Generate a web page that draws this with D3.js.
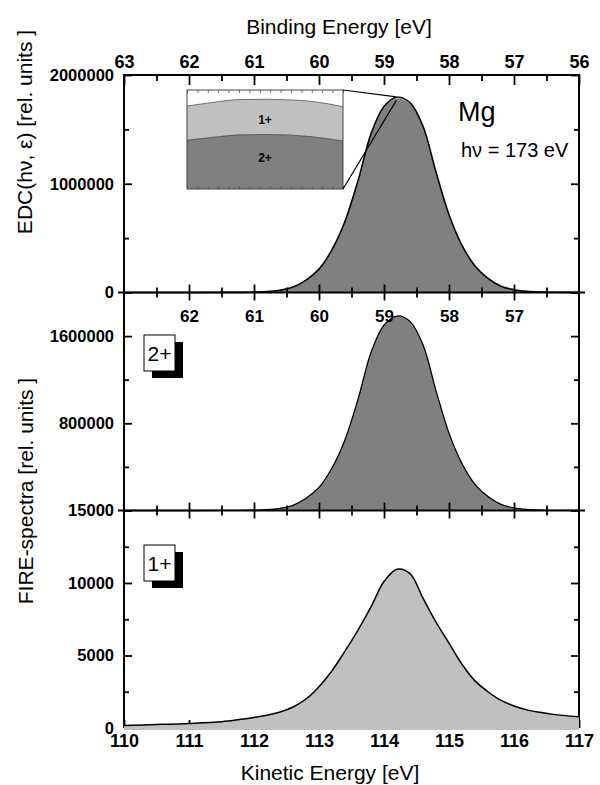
<!DOCTYPE html>
<html>
<head>
<meta charset="utf-8">
<script src="https://cdn.jsdelivr.net/npm/d3@7"></script>
<style>
body { margin: 0; background: #fff; }
svg { display: block; }
text { font-family: "Liberation Sans", Arial, sans-serif; fill: #000; }
</style>
</head>
<body>
<svg id="chart" width="600" height="785"></svg>
<script>
// photon energy, binding energy = hv - kinetic energy
var hv = 173;

// kinetic energy grid [eV]
var kinetic = [110, 110.5, 111, 111.5, 111.8, 112.0, 112.2, 112.4, 112.6, 112.8,
               113.0, 113.2, 113.4, 113.6, 113.8, 114.0, 114.2, 114.4, 114.6, 114.8,
               115.0, 115.2, 115.4, 115.6, 115.8, 116.0, 116.2, 116.4, 116.6, 117];

// FIRE spectrum of the doubly charged ions (2+)
var fire2 = [0, 0, 0, 500, 1000, 3000, 7000, 20000, 48000, 112000,
             212000, 390000, 650000, 1020000, 1450000, 1700000, 1784000, 1735000, 1520000, 1100000,
             710000, 430000, 240000, 128000, 56000, 24000, 9000, 3000, 1000, 0];

// FIRE spectrum of the singly charged ions (1+)
var fire1 = [180, 240, 315, 435, 600, 730, 880, 1100, 1450, 2000,
             2850, 3950, 5300, 6750, 8350, 10100, 10950, 10650, 8950, 7300,
             5850, 4400, 3250, 2500, 1900, 1520, 1250, 1080, 940, 770];

// magnified view around the EDC maximum
var insetKinetic = [114.19, 114.20, 114.21, 114.22, 114.23, 114.24, 114.25];
var insetTwo = [1782800, 1783700, 1784500, 1784600, 1784400, 1783700, 1782500];
var insetOne = [11000, 11300, 11400, 11400, 11400, 11400, 11100];

var bindingTicks = [63, 62, 61, 60, 59, 58, 57, 56];
var bindingMiddleTicks = [62, 61, 60, 59, 58, 57];
var bindingMinor = [62.5, 61.5, 60.5, 59.5, 58.5, 57.5, 56.5];
var kineticTicks = [110, 111, 112, 113, 114, 115, 116, 117];
var edcTicks = [0, 1000000, 2000000];
var edcMinor = [500000, 1500000];
var fire2Ticks = [800000, 1600000];
var fire2Minor = [400000, 1200000];
var fire1Ticks = [0, 5000, 10000, 15000];
var fire1Minor = [2500, 7500, 12500];

var rows = kinetic.map(function(k, i) {
    return {ke: k, two: fire2[i], one: fire1[i]};
});
var insetRows = insetKinetic.map(function(k, i) {
    return {ke: k, two: insetTwo[i], one: insetOne[i]};
});

var svg = d3.select('#chart');

var left = 124, right = 579;
var plotTop = 75, b1 = 292.5, b2 = 510.5, bottom = 728;
var fontFamily = '"Liberation Sans", Arial, sans-serif';

var x = d3.scaleLinear().domain([110, 117]).range([left, right]);
var xb = d3.scaleLinear().domain([hv - 110, hv - 117]).range([left, right]);
var yTop = d3.scaleLinear().domain([0, 2000000]).range([b1, plotTop]);
var yMid = d3.scaleLinear().domain([0, 2000000]).range([b2, b1]);
var yBot = d3.scaleLinear().domain([0, 15000]).range([bottom, b2]);

var dark = '#808080', light = '#c0c0c0';

function styleAxis(g, w) {
    g.select('.domain').remove();
    g.selectAll('.tick line').attr('stroke', '#000').attr('stroke-width', w || 1.8);
    g.selectAll('text').attr('fill', '#000').attr('font-weight', 'bold').style('font-family', fontFamily);
}

// frame
var frame = svg.append('g');
frame.append('line').attr('x1', left).attr('x2', left).attr('y1', plotTop - 1).attr('y2', bottom)
    .attr('stroke', '#000').attr('stroke-width', 2);
frame.append('line').attr('x1', right).attr('x2', right).attr('y1', plotTop - 1).attr('y2', bottom)
    .attr('stroke', '#000').attr('stroke-width', 2);
frame.append('line').attr('x1', left).attr('x2', right).attr('y1', plotTop).attr('y2', plotTop)
    .attr('stroke', '#000').attr('stroke-width', 2);
frame.append('line').attr('x1', left).attr('x2', right).attr('y1', bottom).attr('y2', bottom)
    .attr('stroke', '#000').attr('stroke-width', 2);

// top binding-energy axis
svg.append('g').attr('transform', 'translate(0,' + plotTop + ')')
    .call(d3.axisTop(xb).tickValues(bindingTicks).tickSize(-10).tickPadding(7).tickFormat(d3.format('d')))
    .call(styleAxis)
    .selectAll('text').attr('font-size', 18);
svg.append('g').attr('transform', 'translate(0,' + plotTop + ')')
    .call(d3.axisTop(xb).tickValues(bindingMinor).tickSize(-6).tickFormat(''))
    .call(styleAxis);

// bottom kinetic-energy axis (major ticks, under the fill)
svg.append('g').attr('transform', 'translate(0,' + bottom + ')')
    .call(d3.axisBottom(x).tickValues(kineticTicks).tickSize(-8).tickPadding(6).tickFormat(d3.format('d')))
    .call(styleAxis)
    .selectAll('text').attr('font-size', 18);

// left value axes, mirrored ticks on the right
function valueAxis(scale, major, minor) {
    svg.append('g').attr('transform', 'translate(' + left + ',0)')
        .call(d3.axisLeft(scale).tickValues(major).tickSize(-8).tickPadding(10).tickFormat(d3.format('d')))
        .call(styleAxis)
        .selectAll('text').attr('font-size', 16.5);
    svg.append('g').attr('transform', 'translate(' + left + ',0)')
        .call(d3.axisLeft(scale).tickValues(minor).tickSize(-5).tickFormat(''))
        .call(styleAxis);
    svg.append('g').attr('transform', 'translate(' + right + ',0)')
        .call(d3.axisRight(scale).tickValues(major).tickSize(-8).tickFormat(''))
        .call(styleAxis);
    svg.append('g').attr('transform', 'translate(' + right + ',0)')
        .call(d3.axisRight(scale).tickValues(minor).tickSize(-5).tickFormat(''))
        .call(styleAxis);
}
valueAxis(yTop, edcTicks, edcMinor);
valueAxis(yMid, fire2Ticks, fire2Minor);
valueAxis(yBot, fire1Ticks, fire1Minor);

// fills
var xk = function(d) { return x(d.ke); };
var curve = d3.curveCatmullRom;

svg.append('path').datum(rows)
    .attr('fill', dark)
    .attr('d', d3.area().x(xk).y0(yTop(0)).y1(function(d) { return yTop(d.two); }).curve(curve));
svg.append('path').datum(rows)
    .attr('fill', light)
    .attr('d', d3.area().x(xk).y0(function(d) { return yTop(d.two); })
        .y1(function(d) { return yTop(d.two + d.one); }).curve(curve));
svg.append('path').datum(rows)
    .attr('fill', dark)
    .attr('d', d3.area().x(xk).y0(yMid(0)).y1(function(d) { return yMid(d.two); }).curve(curve));
svg.append('path').datum(rows)
    .attr('fill', light)
    .attr('d', d3.area().x(xk).y0(yBot(0) + 2).y1(function(d) { return yBot(d.one); }).curve(curve));

// panel separators with crossing ticks
function separator(y, labels) {
    svg.append('line').attr('x1', left - 6).attr('x2', right + 6).attr('y1', y).attr('y2', y)
        .attr('stroke', '#000').attr('stroke-width', 2);
    svg.append('g').attr('transform', 'translate(0,' + y + ')')
        .call(d3.axisBottom(xb).tickValues(labels ? bindingMiddleTicks : bindingTicks.slice(1, -1))
            .tickSize(8).tickPadding(9.5).tickFormat(labels ? d3.format('d') : ''))
        .call(styleAxis)
        .selectAll('text').attr('font-size', 17);
    svg.append('g').attr('transform', 'translate(0,' + y + ')')
        .call(d3.axisTop(xb).tickValues(bindingTicks.slice(1, -1)).tickSize(8).tickFormat(''))
        .call(styleAxis);
    svg.append('g').attr('transform', 'translate(0,' + y + ')')
        .call(d3.axisBottom(xb).tickValues(bindingMinor).tickSize(5).tickFormat(''))
        .call(styleAxis);
    svg.append('g').attr('transform', 'translate(0,' + y + ')')
        .call(d3.axisTop(xb).tickValues(bindingMinor).tickSize(5).tickFormat(''))
        .call(styleAxis);
}
separator(b1, true);
separator(b2, false);

// curves
svg.append('path').datum(rows).attr('fill', 'none').attr('stroke', '#000').attr('stroke-width', 1.6)
    .attr('d', d3.line().x(xk).y(function(d) { return yTop(d.two + d.one); }).curve(curve));
svg.append('path').datum(rows).attr('fill', 'none').attr('stroke', '#000').attr('stroke-width', 1.3)
    .attr('d', d3.line().x(xk).y(function(d) { return yMid(d.two); }).curve(curve));
svg.append('path').datum(rows).attr('fill', 'none').attr('stroke', '#000').attr('stroke-width', 1.5)
    .attr('d', d3.line().x(xk).y(function(d) { return yBot(d.one); }).curve(curve));

// inset: magnified EDC maximum
var ix = d3.scaleLinear().domain([114.19, 114.25]).range([187, 343]);
var iy = d3.scaleLinear().domain([1767000, 1799000]).range([189, 90]);
var ixk = function(d) { return ix(d.ke); };
var inset = svg.append('g');
inset.append('rect').attr('x', 187).attr('y', 90).attr('width', 156).attr('height', 99).attr('fill', '#fff');
inset.append('path').datum(insetRows).attr('fill', dark)
    .attr('d', d3.area().x(ixk).y0(189).y1(function(d) { return iy(d.two); }).curve(d3.curveMonotoneX));
inset.append('path').datum(insetRows).attr('fill', light)
    .attr('d', d3.area().x(ixk).y0(function(d) { return iy(d.two); })
        .y1(function(d) { return iy(d.two + d.one); }).curve(d3.curveMonotoneX));
inset.append('path').datum(insetRows).attr('fill', 'none').attr('stroke', '#444').attr('stroke-width', 0.8)
    .attr('d', d3.line().x(ixk).y(function(d) { return iy(d.two); }).curve(d3.curveMonotoneX));
inset.append('path').datum(insetRows).attr('fill', 'none').attr('stroke', '#555').attr('stroke-width', 0.8)
    .attr('d', d3.line().x(ixk).y(function(d) { return iy(d.two + d.one); }).curve(d3.curveMonotoneX));
var insetTicks = d3.range(0, 16).map(function(i) { return 114.19 + i * 0.004; });
inset.append('g').attr('transform', 'translate(0,90)')
    .call(d3.axisTop(ix).tickValues(insetTicks).tickSize(-3).tickFormat(''))
    .call(styleAxis, 0.8);
inset.append('g').attr('transform', 'translate(0,189)')
    .call(d3.axisBottom(ix).tickValues(insetTicks).tickSize(-3).tickFormat(''))
    .call(styleAxis, 0.8);
inset.selectAll('.tick line').attr('stroke', '#555');
inset.append('rect').attr('x', 187).attr('y', 90).attr('width', 156).attr('height', 99)
    .attr('fill', 'none').attr('stroke', '#444').attr('stroke-width', 1);
inset.append('text').attr('x', 265).attr('y', 124).attr('text-anchor', 'middle')
    .attr('font-size', 12).attr('font-weight', 'bold').text('1+');
inset.append('text').attr('x', 265).attr('y', 162).attr('text-anchor', 'middle')
    .attr('font-size', 12).attr('font-weight', 'bold').text('2+');

// connectors to the magnified region of the top panel
var zx = x(ix.domain()[0]);
svg.append('line').attr('x1', 343).attr('y1', 90).attr('x2', zx).attr('y2', yTop(iy.domain()[1]))
    .attr('stroke', '#000').attr('stroke-width', 1.2);
svg.append('line').attr('x1', 343).attr('y1', 189).attr('x2', zx).attr('y2', yTop(iy.domain()[0]))
    .attr('stroke', '#000').attr('stroke-width', 1.2);

// charge-state labels with shadow boxes
function chargeBox(bx, by, label) {
    svg.append('rect').attr('x', bx + 8).attr('y', by + 7).attr('width', 31).attr('height', 36).attr('fill', '#000');
    svg.append('rect').attr('x', bx).attr('y', by).attr('width', 31).attr('height', 36)
        .attr('fill', '#fff').attr('stroke', '#000').attr('stroke-width', 1);
    svg.append('text').attr('x', bx + 15.5).attr('y', by + 26).attr('text-anchor', 'middle')
        .attr('font-size', 21).text(label);
}
chargeBox(144, 335, '2+');
chargeBox(144, 545, '1+');

// annotations
svg.append('text').attr('x', 458).attr('y', 121).attr('font-size', 27).text('Mg');
svg.append('text').attr('x', 461).attr('y', 157).attr('font-size', 20).text('h\u03bd = ' + hv + ' eV');

// axis titles
svg.append('text').attr('x', 339).attr('y', 34).attr('text-anchor', 'middle').attr('font-size', 21)
    .text('Binding Energy [eV]');
svg.append('text').attr('x', 330).attr('y', 780).attr('text-anchor', 'middle').attr('font-size', 21)
    .text('Kinetic Energy [eV]');
svg.append('text').attr('transform', 'translate(32,132) rotate(-90)').attr('text-anchor', 'middle')
    .attr('font-size', 21).text('EDC(h\u03bd, \u03b5) [rel. units ]');
svg.append('text').attr('transform', 'translate(33,491) rotate(-90)').attr('text-anchor', 'middle')
    .attr('font-size', 21).text('FIRE-spectra [rel. units ]');
</script>
</body>
</html>
